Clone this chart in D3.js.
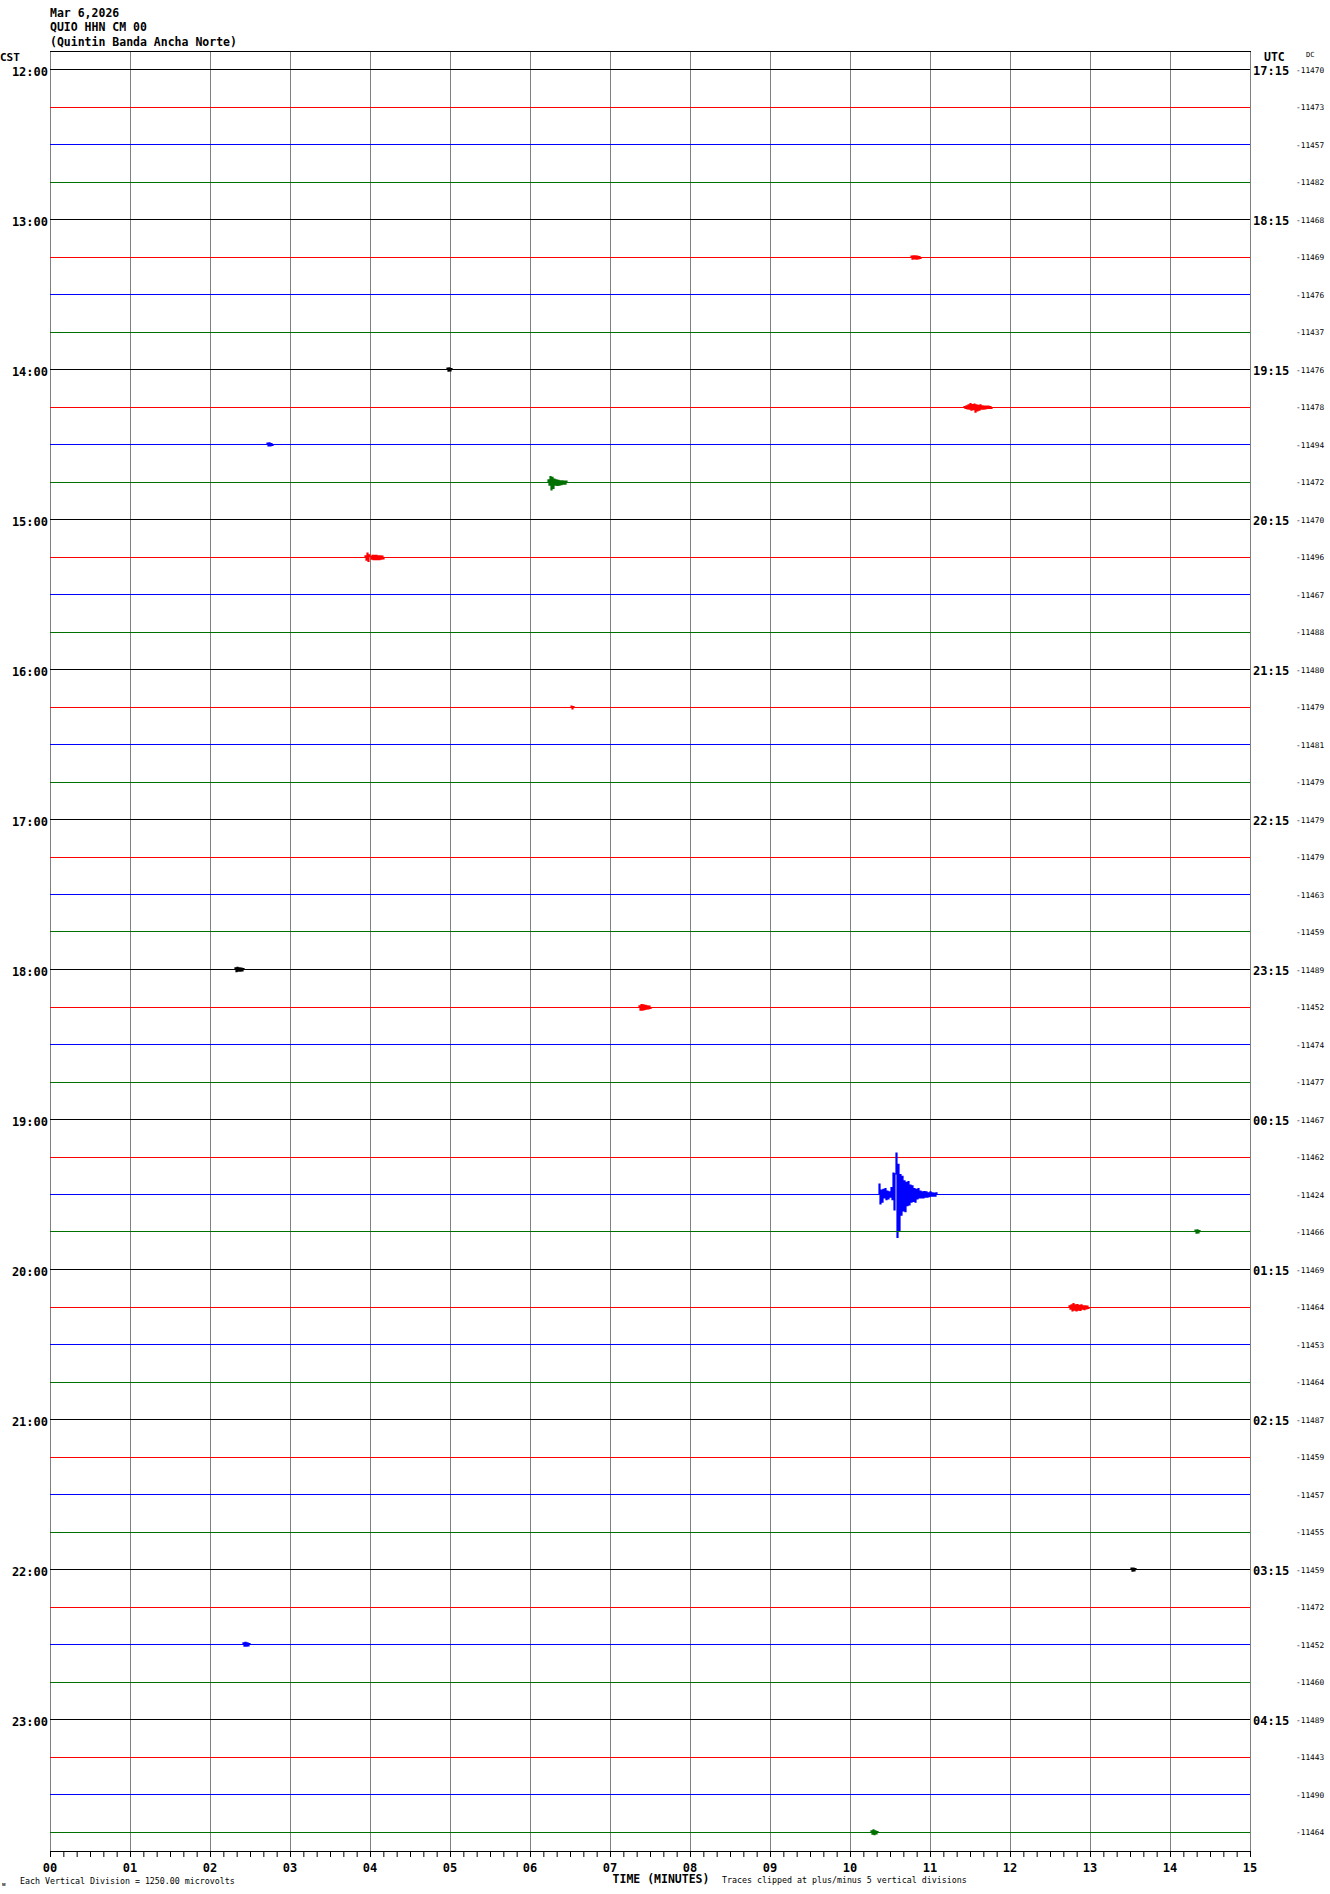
<!DOCTYPE html>
<html>
<head>
<meta charset="utf-8">
<script src="https://cdn.jsdelivr.net/npm/d3@7/dist/d3.min.js"></script>
<style>
  html, body { margin: 0; padding: 0; background: #fff; }
  svg { display: block; }
  text { font-family: "DejaVu Sans Mono", "Liberation Mono", monospace; fill: #000; }
</style>
</head>
<body>
<script>
// ---------- DATA ----------
const titleLines = ["Mar 6,2026", "QUIO HHN CM 00", "(Quintin Banda Ancha Norte)"];
const cstLabels = ["12:00","13:00","14:00","15:00","16:00","17:00","18:00","19:00","20:00","21:00","22:00","23:00"];
const utcLabels = ["17:15","18:15","19:15","20:15","21:15","22:15","23:15","00:15","01:15","02:15","03:15","04:15"];
const dcValues = [-11470,-11473,-11457,-11482,-11468,-11469,-11476,-11437,-11476,-11478,-11494,-11472,
                  -11470,-11496,-11467,-11488,-11480,-11479,-11481,-11479,-11479,-11479,-11463,-11459,
                  -11489,-11452,-11474,-11477,-11467,-11462,-11424,-11466,-11469,-11464,-11453,-11464,
                  -11487,-11459,-11457,-11455,-11459,-11472,-11452,-11460,-11489,-11443,-11490,-11464];
const traceColors = ["#000000", "#ff0000", "#0000ff", "#007000"];
const minuteTicks = d3.range(0, 16);               // 00 .. 15
const sampleStep = 0.0125;                          // minutes per sample (0.75 s)
// events: trace index, start minute, samples (in vertical divisions)
const eventTrace = [5, 8, 9, 10, 11, 13, 17, 24, 25, 30, 31, 33, 40, 42, 47];
const eventStart = [10.75, 4.95, 11.4125, 2.7, 6.2125, 3.925, 6.5, 2.3, 7.35, 10.35, 14.3, 12.725, 13.5, 2.4, 10.25];
const eventSamples = [
  [0, 0.15, -0.2, 0.2, -0.15, 0.2, -0.2, 0.15, -0.15, 0.1, -0.1, 0],
  [0, 0.15, -0.2, 0.2, -0.15, 0.1, 0],
  [0, 0.1, -0.1, 0.2, -0.15, 0.3, -0.2, 0.45, -0.3, 0.35, -0.25, 0.4, -0.55, 0.3, -0.4, 0.25, -0.3, 0.3, -0.2, 0.2, -0.2, 0.15, -0.15, 0.15, -0.1, 0.15, -0.1, 0.1, -0.1, 0],
  [0, 0.15, -0.15, 0.2, -0.15, 0.1, -0.1, 0],
  [0, 0.3, -0.3, 0.7, -0.85, 0.6, -0.7, 0.4, -0.3, 0.3, -0.35, 0.25, -0.3, 0.2, -0.25, 0.2, -0.2, 0.15, -0.2, 0.15, 0],
  [0, 0.2, -0.3, 0.5, -0.45, 0.3, 0.1, -0.2, 0.25, -0.25, 0.25, -0.25, 0.25, -0.25, 0.2, -0.25, 0.2, -0.2, 0.15, -0.15, 0],
  [0, 0.15, -0.15, 0.1, 0],
  [0, 0.2, -0.25, 0.25, -0.2, 0.2, -0.2, 0.15, -0.15, 0.1, 0],
  [0, 0.2, -0.3, 0.35, -0.3, 0.3, -0.25, 0.25, -0.2, 0.2, -0.15, 0.15, -0.1, 0],
  [0, 1.2, -1.1, 0.5, -0.9, 0.6, -0.4, 0.7, -0.6, 0.4, -0.5, 0.3, -0.3, 0.8, -0.6, 2.5, -1.8, 2.4, 4.8, -5, 3.5, -4.2, 2.3, -2.4, 2.1, -1.9, 1.6, -2.0, 1.4, -1.3, 1.5, -1.2, 1.1, -0.9, 1.0, -0.8, 0.7, -0.9, 0.6, -0.5, 0.7, -0.4, 0.4, -0.4, 0.3, -0.4, 0.35, -0.3, 0.3, -0.3, 0.2, -0.25, 0.3, -0.2, 0.2, -0.2, 0.15, -0.2, 0.2, 0],
  [0, 0.15, -0.2, 0.2, -0.15, 0.1, 0],
  [0, 0.2, -0.2, 0.3, -0.4, 0.45, -0.3, 0.3, -0.4, 0.35, -0.3, 0.25, -0.35, 0.3, -0.2, 0.2, -0.25, 0.2, -0.15, 0.15, -0.1, 0],
  [0, 0.15, -0.2, 0.15, -0.15, 0.1, 0],
  [0, 0.2, -0.2, 0.25, -0.2, 0.2, -0.15, 0.1, 0],
  [0, 0.2, -0.2, 0.3, -0.25, 0.2, -0.15, 0.1, 0]
];
const clipDivisions = 5;
const nTraces = dcValues.length;

// ---------- LAYOUT ----------
const W = 1330, H = 1894;
const plotL = 50, plotR = 1250, plotT = 51, axisY = 1851;
const firstTraceY = 69, traceGap = 37.5;
const divPx = 8.6;

const svg = d3.select("body").append("svg").attr("width", W).attr("height", H);
svg.append("rect").attr("width", W).attr("height", H).attr("fill", "#fff");

const x = d3.scaleLinear().domain([0, 15]).range([plotL, plotR]);
const yBase = d3.scaleLinear().domain([0, nTraces - 1]).range([firstTraceY, firstTraceY + traceGap * (nTraces - 1)]);
const amp = d3.scaleLinear().domain([-clipDivisions, clipDivisions]).range([clipDivisions * divPx, -clipDivisions * divPx]);

// vertical grid lines
svg.append("g").selectAll("line").data(minuteTicks).join("line")
  .attr("x1", d => Math.round(x(d)) + 0.5).attr("x2", d => Math.round(x(d)) + 0.5)
  .attr("y1", plotT).attr("y2", axisY)
  .attr("stroke", "#808080").attr("stroke-width", 1);

// top border
svg.append("line").attr("x1", plotL).attr("x2", plotR + 1).attr("y1", plotT + 0.5).attr("y2", plotT + 0.5)
  .attr("stroke", "#000").attr("stroke-width", 1);

// traces
const traces = d3.range(nTraces).map(i => {
  const pts = [[0, 0]];
  eventTrace.forEach((t, k) => {
    if (t === i) {
      eventSamples[k].forEach((v, j) => pts.push([eventStart[k] + j * sampleStep, v]));
    }
  });
  pts.push([15, 0]);
  pts.sort((a, b) => a[0] - b[0]);
  return { i, pts };
});

const gTr = svg.append("g");
traces.forEach(tr => {
  const base = Math.round(yBase(tr.i)) + 0.5;
  const clip = v => Math.max(-clipDivisions, Math.min(clipDivisions, v));
  gTr.append("path")
    .attr("d", d3.line()
      .x(d => x(d[0]))
      .y(d => base + amp(clip(d[1])))
      .curve(d3.curveStepAfter)(tr.pts))
    .attr("fill", "none")
    .attr("stroke", traceColors[tr.i % 4])
    .attr("stroke-width", 1.2);
});

// title
svg.append("g").selectAll("text").data(titleLines).join("text")
  .attr("x", 50).attr("y", (d, k) => 16.5 + k * 14.5)
  .attr("font-size", 11.5).attr("font-weight", "bold").text(d => d);

// CST / UTC headers
svg.append("text").attr("x", 0).attr("y", 60.5).attr("font-size", 11).attr("font-weight", "bold").text("CST");
svg.append("text").attr("x", 1264).attr("y", 60.5).attr("font-size", 11.5).attr("font-weight", "bold").text("UTC");
svg.append("text").attr("x", 1306).attr("y", 56.5).attr("font-size", 7).text("DC");

// left hour labels
svg.append("g").selectAll("text").data(cstLabels).join("text")
  .attr("x", 48).attr("y", (d, k) => yBase(k * 4) + 6.5)
  .attr("text-anchor", "end").attr("font-size", 12).attr("font-weight", "bold").text(d => d);

// right UTC labels
svg.append("g").selectAll("text").data(utcLabels).join("text")
  .attr("x", 1253).attr("y", (d, k) => yBase(k * 4) + 6)
  .attr("font-size", 12).attr("font-weight", "bold").text(d => d);

// DC values
svg.append("g").selectAll("text").data(dcValues).join("text")
  .attr("x", 1296).attr("y", (d, k) => yBase(k) + 3.5)
  .attr("font-size", 7.8).text(d => String(d));

// bottom axis
const axis = d3.axisBottom(x).tickValues(d3.range(0, 15.0001, 1 / 6)).tickSize(6).tickFormat("");
const gAx = svg.append("g").attr("transform", `translate(0,${axisY})`).call(axis);
gAx.select(".domain").attr("stroke", "#000").attr("d", `M${plotL},0.5H${plotR + 1}`);
gAx.selectAll(".tick line").attr("stroke", "#000");

svg.append("g").selectAll("text").data(minuteTicks).join("text")
  .attr("x", d => x(d)).attr("y", 1872)
  .attr("text-anchor", "middle").attr("font-size", 12).attr("font-weight", "bold")
  .text(d => d3.format("02d")(d));

svg.append("text").attr("x", 661).attr("y", 1883).attr("text-anchor", "middle")
  .attr("font-size", 11.5).attr("font-weight", "bold").text("TIME (MINUTES)");
svg.append("text").attr("x", 722).attr("y", 1883).attr("font-size", 8.3)
  .text("Traces clipped at plus/minus 5 vertical divisions");
svg.append("text").attr("x", 20).attr("y", 1884).attr("font-size", 8.3)
  .text("Each Vertical Division = 1250.00 microvolts");
svg.append("text").attr("x", 2).attr("y", 1886).attr("font-size", 6).text("ᴍ");
</script>
</body>
</html>
